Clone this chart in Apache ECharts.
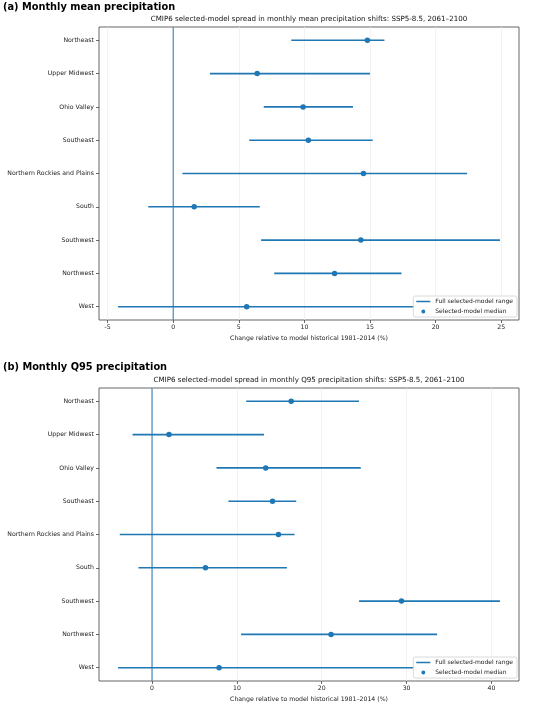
<!DOCTYPE html>
<html>
<head>
<meta charset="utf-8">
<script src="https://cdn.jsdelivr.net/npm/echarts@6/dist/echarts.min.js"></script>
<style>
  html, body { margin: 0; padding: 0; background: #fff; }
  #main { width: 550px; height: 704px; }
</style>
</head>
<body>
<div id="main"></div>
<script>
// regions top to bottom
var regions = ['Northeast', 'Upper Midwest', 'Ohio Valley', 'Southeast',
  'Northern Rockies and Plains', 'South', 'Southwest', 'Northwest', 'West'];

// (a) monthly mean precipitation change (%)
var meanLo  = [9.0, 2.8, 6.9, 5.8, 0.7, -1.9, 6.7, 7.7, -4.2];
var meanHi  = [16.1, 15.0, 13.7, 15.2, 22.4, 6.6, 24.9, 17.4, 21.0];
var meanMed = [14.8, 6.4, 9.9, 10.3, 14.5, 1.6, 14.3, 12.3, 5.6];
var meanTicks = [-5, 0, 5, 10, 15, 20, 25];

// (b) monthly Q95 precipitation change (%)
var q95Lo  = [11.1, -2.3, 7.6, 9.0, -3.8, -1.6, 24.4, 10.5, -4.0];
var q95Hi  = [24.4, 13.2, 24.6, 17.0, 16.8, 15.9, 41.0, 33.6, 33.0];
var q95Med = [16.4, 2.0, 13.4, 14.2, 14.9, 6.3, 29.4, 21.1, 7.9];
var q95Ticks = [0, 10, 20, 30, 40];

var blue = '#1f77b4';
var font = 'DejaVu Sans';
var rowIdx = regions.map(function (r, i) { return i; });
var yLim = [-0.4, regions.length - 0.6];

// matplotlib-like 5% padding
function pad(lo, hi) {
  var mn = Math.min.apply(null, lo), mx = Math.max.apply(null, hi);
  var d = (mx - mn) * 0.05;
  return [mn - d, mx + d];
}
var meanLim = pad(meanLo, meanHi);
var q95Lim = pad(q95Lo, q95Hi);

var lineIcon = 'path://M0,0L0.01,0L0.01,0.01Z M0,3.9L20,3.9L20,6.1L0,6.1Z M20,10L19.99,10L19.99,9.99Z';
var dotIcon = 'path://M0,0L0.01,0L0.01,0.01Z M7.2,5A2.8,2.8 0 1,0 12.8,5A2.8,2.8 0 1,0 7.2,5Z M20,10L19.99,10L19.99,9.99Z';

function xAxisOpt(gi, lim, ticks) {
  return {
    type: 'value', gridIndex: gi, min: lim[0], max: lim[1],
    name: 'Change relative to model historical 1981\u20132014 (%)',
    nameLocation: 'middle', nameGap: 15,
    nameTextStyle: { fontFamily: font, fontSize: 6.2, color: '#222' },
    axisLine: { show: false, onZero: false },
    axisTick: { show: true, length: 3, customValues: ticks, lineStyle: { color: '#444', width: 0.8 } },
    axisLabel: { customValues: ticks, fontFamily: font, fontSize: 6.2, color: '#222', margin: 4 },
    splitLine: { show: true, lineStyle: { color: '#ececec', width: 0.7 } }
  };
}

function yAxisOpt(gi) {
  return {
    type: 'value', gridIndex: gi, inverse: true, min: yLim[0], max: yLim[1],
    axisLine: { show: false, onZero: false },
    axisTick: { show: true, length: 3, customValues: rowIdx, lineStyle: { color: '#444', width: 0.8 } },
    axisLabel: {
      customValues: rowIdx, fontFamily: font, fontSize: 6.2, color: '#222', margin: 5,
      formatter: function (v) { return regions[Math.round(v)]; }
    },
    splitLine: { show: false }
  };
}

// vertical reference line at zero change
function zeroSeries(gi) {
  return {
    name: 'zero', type: 'line', xAxisIndex: gi, yAxisIndex: gi, z: 2,
    showSymbol: false, silent: true,
    lineStyle: { color: blue, width: 1 },
    itemStyle: { color: blue },
    data: [[0, yLim[0]], [0, yLim[1]]]
  };
}

function rangeSeries(gi, lo, hi) {
  return {
    name: 'Full selected-model range', type: 'custom',
    xAxisIndex: gi, yAxisIndex: gi, z: 3,
    data: regions.map(function (r, i) { return [i, lo[i], hi[i]]; }),
    encode: { x: [1, 2], y: 0 },
    renderItem: function (params, api) {
      var p1 = api.coord([api.value(1), api.value(0)]);
      var p2 = api.coord([api.value(2), api.value(0)]);
      return {
        type: 'line',
        shape: { x1: p1[0], y1: p1[1], x2: p2[0], y2: p2[1] },
        style: { stroke: blue, lineWidth: 1.6 }
      };
    },
    itemStyle: { color: blue }
  };
}

function medSeries(gi, med) {
  return {
    name: 'Selected-model median', type: 'scatter',
    xAxisIndex: gi, yAxisIndex: gi, z: 4,
    symbolSize: 5.5,
    itemStyle: { color: blue, opacity: 1 },
    data: med.map(function (v, i) { return [v, i]; })
  };
}

function legendOpt(gi, bottom) {
  return {
    orient: 'vertical', right: 33, bottom: bottom,
    backgroundColor: '#fff', borderColor: '#d0d0d0', borderWidth: 0.8, borderRadius: 2,
    padding: [2, 4, 2, 3], itemGap: 3, itemWidth: 14, itemHeight: 7,
    textStyle: { fontFamily: font, fontSize: 6, color: '#222' },
    data: [
      { name: 'Full selected-model range', icon: lineIcon, itemStyle: { color: blue } },
      { name: 'Selected-model median', icon: dotIcon, itemStyle: { color: blue } }
    ],
    selectedMode: false
  };
}

var chart = echarts.init(document.getElementById('main'), null, { renderer: 'canvas' });

var option = {
  animation: false,
  backgroundColor: '#fff',
  grid: [
    { left: 99, right: 31, top: 27, height: 293, show: true, borderColor: '#555', borderWidth: 0.9, backgroundColor: 'transparent' },
    { left: 99, right: 31, top: 388, height: 293, show: true, borderColor: '#555', borderWidth: 0.9, backgroundColor: 'transparent' }
  ],
  xAxis: [xAxisOpt(0, meanLim, meanTicks), xAxisOpt(1, q95Lim, q95Ticks)],
  yAxis: [yAxisOpt(0), yAxisOpt(1)],
  legend: [legendOpt(0, 387), legendOpt(1, 26)],
  graphic: [
    { type: 'text', left: 3, top: 2, style: { text: '(a) Monthly mean precipitation', font: 'bold 9.8px "DejaVu Sans"', fill: '#000' } },
    { type: 'text', x: 309, y: 16, style: { text: 'CMIP6 selected-model spread in monthly mean precipitation shifts: SSP5-8.5, 2061\u20132100', font: '7.1px "DejaVu Sans"', fill: '#111', textAlign: 'center' } },
    { type: 'text', left: 3, top: 362, style: { text: '(b) Monthly Q95 precipitation', font: 'bold 9.8px "DejaVu Sans"', fill: '#000' } },
    { type: 'text', x: 309, y: 377, style: { text: 'CMIP6 selected-model spread in monthly Q95 precipitation shifts: SSP5-8.5, 2061\u20132100', font: '7.1px "DejaVu Sans"', fill: '#111', textAlign: 'center' } }
  ],
  series: [
    zeroSeries(0), rangeSeries(0, meanLo, meanHi), medSeries(0, meanMed),
    zeroSeries(1), rangeSeries(1, q95Lo, q95Hi), medSeries(1, q95Med)
  ]
};

chart.setOption(option);
</script>
</body>
</html>
